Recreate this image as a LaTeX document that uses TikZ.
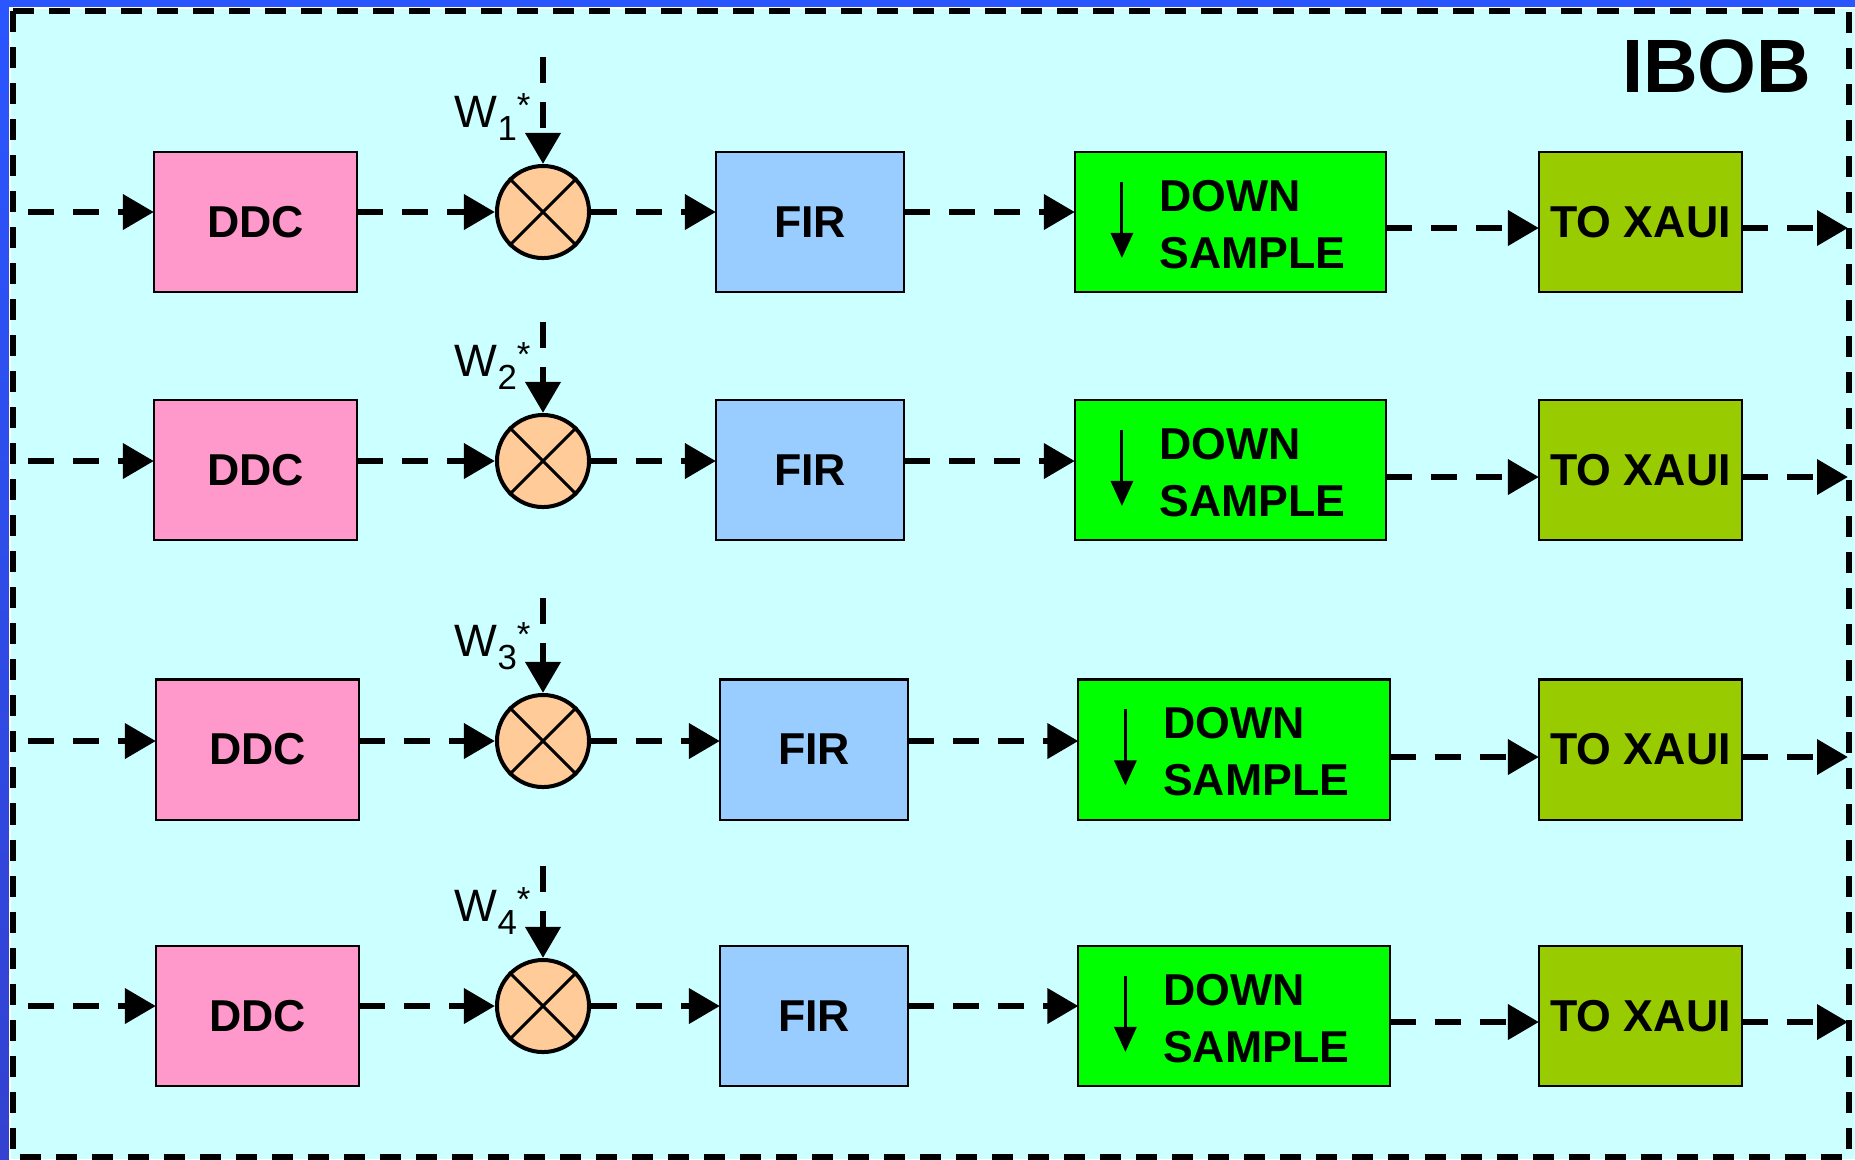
\documentclass[tikz,border=0pt]{standalone}
\usepackage{fontspec}
\setmainfont{Liberation Sans}
\usetikzlibrary{arrows.meta,calc}
\definecolor{bgcyan}{HTML}{CCFFFF}
\definecolor{frameblue}{HTML}{2A56FF}
\definecolor{frameblueb}{HTML}{3342D0}
\definecolor{ddcpink}{HTML}{FF99CC}
\definecolor{firblue}{HTML}{99CCFF}
\definecolor{dsgreen}{HTML}{00FF00}
\definecolor{xauigreen}{HTML}{99CC00}
\definecolor{mixpeach}{HTML}{FFCC99}
\newcommand\blkfont{\fontsize{12.7pt}{16.2pt}\selectfont\bfseries}
\newcommand\wmainfont{\fontsize{12.9pt}{15pt}\selectfont}
\newcommand\wsubfont{\fontsize{9.9pt}{11pt}\selectfont}
\tikzset{
  blk/.style={draw=black, line width=0.6pt, inner sep=0pt, outer sep=0pt,
    minimum height=1.40cm, font=\blkfont},
  ddcbox/.style={blk, fill=ddcpink, minimum width=2.03cm},
  firbox/.style={blk, fill=firblue, minimum width=1.88cm},
  dsbox/.style={blk, fill=dsgreen, minimum width=3.11cm},
  xauibox/.style={blk, fill=xauigreen, minimum width=2.03cm},
  dstext/.style={inner sep=0pt, align=left, font=\blkfont},
  mixer/.style={circle, draw=black, line width=0.04cm, fill=mixpeach,
    minimum size=0.92cm, inner sep=0pt},
  flow/.style={line width=0.068cm, dash pattern=on 0.26cm off 0.19cm,
    -{Triangle[length=0.31cm,width=0.34cm]}},
  frameline/.style={line width=0.06cm, dash pattern=on 0.21cm off 0.15cm},
  wlabel/.style={inner sep=0pt, font=\wmainfont},
}
\begin{document}
\begin{tikzpicture}[x=0.01cm, y=-0.01cm]
\useasboundingbox (0,0) rectangle (1855,1159);
% slide background and frame
\fill[frameblue] (0,0) rectangle (1855,1159);
\shade[top color=frameblue, bottom color=frameblueb] (0,7) rectangle (9,1159);
\fill[white] (9,7) rectangle (1855,1159);
\fill[bgcyan] (11,9) rectangle (1855,1159);
\draw[frameline] (13,11) rectangle (1849,1157);
\node[anchor=base east, inner sep=0pt, font=\fontsize{21.5pt}{24pt}\selectfont\bfseries] (ibob) at (1812,92) {IBOB};
% rows
\foreach \i/\cy/\ay/\wt/\dx/\fx/\dsx in {1/222/212/57/255.5/810/1230.5,
    2/470/461/322/255.5/810/1230.5,
    3/749.5/741/598/257.5/814/1234,
    4/1016/1006/866/257.5/814/1234}{
  \coordinate (in\i) at (28,\ay);
  \coordinate (w\i) at (543,\wt);
  \coordinate (out\i) at (1848,\ay+16);
  \node[ddcbox] (ddc\i) at (\dx,\cy) {DDC};
  \node[mixer] (mix\i) at (543,\ay) {};
  \draw[line width=0.03cm] (mix\i.north east) -- (mix\i.south west)
                           (mix\i.north west) -- (mix\i.south east);
  \node[firbox] (fir\i) at (\fx,\cy) {FIR};
  \node[dsbox] (ds\i) at (\dsx,\cy) {};
  \node[dstext, anchor=west] (dst\i) at ($(ds\i.west)+(84,2.5)$) {DOWN\\SAMPLE};
  \draw[line width=0.03cm, -{Triangle[length=0.25cm,width=0.22cm]}]
    ($(ds\i.north west)+(47,30)$) -- ($(ds\i.north west)+(47,106)$);
  \node[xauibox] (xaui\i) at (1640.5,\cy) {TO XAUI};
  \node[wlabel, anchor=base west] (wl\i) at (454,\ay-85)
    {W\raisebox{-0.13cm}{\wsubfont \i}\raisebox{0.10cm}{\wsubfont *}};
  \draw[flow] (in\i) -- (ddc\i.west |- in\i);
  \draw[flow] (ddc\i.east |- mix\i) -- (mix\i.west);
  \draw[flow] (mix\i.east) -- (fir\i.west |- mix\i);
  \draw[flow] (fir\i.east |- mix\i) -- (ds\i.west |- mix\i);
  \draw[flow] (ds\i.east |- out\i) -- (xaui\i.west |- out\i);
  \draw[flow] (xaui\i.east |- out\i) -- (out\i);
  \draw[flow] (w\i) -- (mix\i.north);
}
\end{tikzpicture}
\end{document}
